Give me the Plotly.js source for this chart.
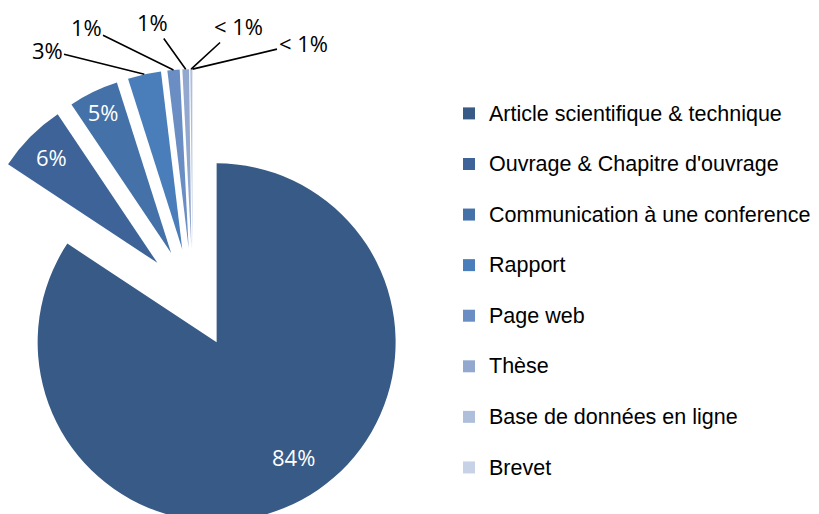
<!DOCTYPE html>
<html><head><meta charset="utf-8">
<script src="https://cdn.plot.ly/plotly-3.0.1.min.js"></script>
<style>
html,body{margin:0;padding:0;overflow:hidden;background:#fff;}
#wrap{position:relative;width:819px;height:514px;overflow:hidden;background:#fff;}
#chart{position:absolute;left:-50px;top:0;width:960px;height:540px;}
</style></head><body>
<div id="wrap"><div id="chart"></div></div>
<script>
const categories = [
  'Article scientifique & technique',
  'Ouvrage & Chapitre d\'ouvrage',
  'Communication à une conference',
  'Rapport',
  'Page web',
  'Thèse',
  'Base de données en ligne',
  'Brevet'
];
const shares = [84.3, 6.3, 4.5, 3.0, 1.1, 0.6, 0.15, 0.05];
const shareLabels = ['84%', '6%', '5%', '3%', '1%', '1%', '< 1%', '< 1%'];
const sliceColors = ['#385A86', '#3D6398', '#4371A8', '#4A7EBB', '#6A8EC4', '#93A8CF', '#AFBFDB', '#C8D2E6'];

// layout / style constants
const Lx = 50, W = 960, H = 540;
const pull = 0.28;
const dom = {x: [13.8 / W, 472 / W], y: [(H - 527.3) / H, (H - 69.1) / H]};
const insideSlices = [1, 2];
// callout label centres (page pixels) for the small slices
const calloutPos = {3: [47, 50], 4: [86, 27], 5: [152, 22], 6: [238, 26], 7: [303, 43]};

const textPos = shares.map((v, i) => insideSlices.includes(i) ? 'inside' : 'none');
const legendLabels = categories.map(c => '<span style="font-size:21.5px">' + c + '</span><br> ');

// pie geometry as Plotly computes it (for label callouts)
const boxW = W * (dom.x[1] - dom.x[0]), boxH = H * (dom.y[1] - dom.y[0]);
const R = Math.min(boxW, boxH) / 2;
const r = R / (1 + pull);
const cx = W * (dom.x[0] + dom.x[1]) / 2, cy = H * (1 - (dom.y[0] + dom.y[1]) / 2);
const total = shares.reduce((a, b) => a + b, 0);
let cum = 0;
const mids = shares.map(v => { const m = (cum + v / 2) / total * 2 * Math.PI; cum += v; return m; });
function pt(theta, dist, ox, oy) { return [ox + dist * Math.sin(theta), oy - dist * Math.cos(theta)]; }

const annotations = [];
Object.keys(calloutPos).forEach(k => {
  const i = +k;
  const tip = pt(mids[i], R, cx, cy);
  const lp = calloutPos[k];
  annotations.push({
    x: tip[0] / W, y: 1 - tip[1] / H, xref: 'paper', yref: 'paper',
    ax: lp[0] + Lx - tip[0], ay: lp[1] - tip[1], axref: 'pixel', ayref: 'pixel',
    text: shareLabels[i], showarrow: true, arrowhead: 0, arrowwidth: 1.6, arrowcolor: '#000000', standoff: 0,
    font: {family: 'Open Sans, sans-serif', size: 22, color: '#000000'}
  });
});
const cMain = pt(mids[0], pull * r, cx, cy);
annotations.push({
  x: (cMain[0] + 0.43 * r) / W, y: 1 - (cMain[1] + 0.64 * r) / H, xref: 'paper', yref: 'paper',
  xanchor: 'center', yanchor: 'middle',
  text: shareLabels[0], showarrow: false,
  font: {family: 'Open Sans, sans-serif', size: 22, color: '#ffffff'}
});

const trace = {
  type: 'pie',
  labels: legendLabels,
  values: shares,
  text: shareLabels,
  textinfo: 'text',
  textposition: textPos,
  insidetextorientation: 'horizontal',
  sort: false,
  direction: 'clockwise',
  rotation: 0,
  pull: pull,
  marker: {colors: sliceColors, line: {width: 0}},
  insidetextfont: {family: 'Open Sans, sans-serif', size: 22, color: '#ffffff'},
  hoverinfo: 'none',
  domain: dom
};

const layout = {
  width: W, height: H,
  margin: {l: 0, r: 0, t: 0, b: 0},
  paper_bgcolor: '#ffffff',
  showlegend: true,
  annotations: annotations,
  legend: {
    x: 499 / W, xanchor: 'left',
    y: (H - 95) / H, yanchor: 'top',
    valign: 'top',
    font: {family: 'Liberation Sans, Arial, sans-serif', size: 18.3, color: '#000000'},
    bgcolor: 'rgba(0,0,0,0)'
  }
};

Plotly.newPlot('chart', [trace], layout, {displayModeBar: false, staticPlot: true});
</script>
</body></html>
